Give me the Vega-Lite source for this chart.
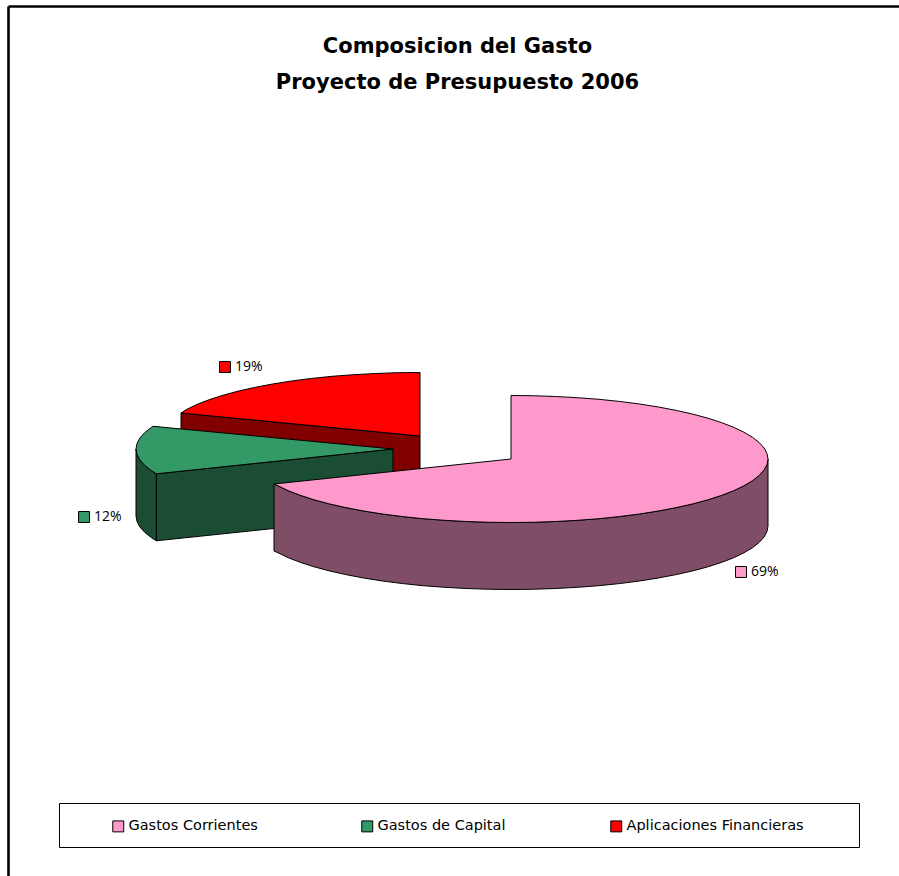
{"$schema":"https://vega.github.io/schema/vega-lite/v6.json","width":899,"height":876,"padding":0,"autosize":{"type":"none"},"background":"white","view":{"stroke":null},
"title":{"text":["Composicion del Gasto","Proyecto de Presupuesto 2006"],"anchor":"middle","orient":"top","offset":-93,"dx":8,"font":"DejaVu Sans","fontSize":21,"fontWeight":"bold","lineHeight":36,"color":"black"},
"datasets":{
"marco":[{"x":8.5,"y":6.5,"x2":8.5,"y2":876},{"x":8.5,"y":6.5,"x2":899,"y2":6.5}],
"caja":[{"x":59.5,"y":803.5,"x2":859.5,"y2":847.5}],
"porcentajes":[{"cara":"Gastos Corrientes","share":0.69,"x":741,"y":572},{"cara":"Gastos de Capital","share":0.12,"x":84,"y":517},{"cara":"Aplicaciones Financieras","share":0.19,"x":225,"y":367}],
"lateralRojo":[{"cara":"Lateral Aplicaciones Financieras","x":181,"y":413,"y2":480},{"cara":"Lateral Aplicaciones Financieras","x":420,"y":436,"y2":503}],
"lateralVerde":[{"cara":"Lateral Gastos de Capital","tramo":"curvo","x":136,"y":449,"y2":516},{"cara":"Lateral Gastos de Capital","tramo":"curvo","x":137,"y":454.5,"y2":521.5},{"cara":"Lateral Gastos de Capital","tramo":"curvo","x":139.9,"y":460,"y2":527},{"cara":"Lateral Gastos de Capital","tramo":"curvo","x":144.8,"y":465.4,"y2":532.4},{"cara":"Lateral Gastos de Capital","tramo":"curvo","x":151.5,"y":470.7,"y2":537.7},{"cara":"Lateral Gastos de Capital","tramo":"curvo","x":156.4,"y":473.8,"y2":540.8},{"cara":"Lateral Gastos de Capital","tramo":"recto","x":156.4,"y":473.8,"y2":540.8},{"cara":"Lateral Gastos de Capital","tramo":"recto","x":393,"y":449,"y2":516}],
"lateralRosa":[{"x":274,"y":484,"y2":551},{"x":278.1,"y":485.8,"y2":552.8},{"x":288.4,"y":490.75,"y2":557.75},{"x":300.5,"y":495.4,"y2":562.4},{"x":314.1,"y":499.8,"y2":566.8},{"x":329.3,"y":503.9,"y2":570.9},{"x":345.8,"y":507.6,"y2":574.6},{"x":363.6,"y":511,"y2":578},{"x":382.5,"y":514,"y2":581},{"x":402.4,"y":516.55,"y2":583.55},{"x":423.1,"y":518.7,"y2":585.7},{"x":444.5,"y":520.3,"y2":587.3},{"x":466.4,"y":521.5,"y2":588.5},{"x":488.6,"y":522.26,"y2":589.26},{"x":511,"y":522.5,"y2":589.5},{"x":533.4,"y":522.26,"y2":589.26},{"x":555.6,"y":521.5,"y2":588.5},{"x":577.5,"y":520.3,"y2":587.3},{"x":598.9,"y":518.7,"y2":585.7},{"x":619.6,"y":516.55,"y2":583.55},{"x":639.5,"y":514,"y2":581},{"x":658.4,"y":511,"y2":578},{"x":676.2,"y":507.6,"y2":574.6},{"x":692.7,"y":503.9,"y2":570.9},{"x":707.9,"y":499.8,"y2":566.8},{"x":721.5,"y":495.4,"y2":562.4},{"x":733.6,"y":490.75,"y2":557.75},{"x":743.9,"y":485.8,"y2":552.8},{"x":752.5,"y":480.7,"y2":547.7},{"x":759.2,"y":475.4,"y2":542.4},{"x":764.1,"y":470,"y2":537},{"x":767,"y":464.5,"y2":531.5},{"x":768,"y":459,"y2":526}],
"tapaRojo":[{"i":0,"x":420,"y":436},{"i":1,"x":420,"y":372.5},{"i":2,"x":397.6,"y":372.7},{"i":3,"x":375.4,"y":373.5},{"i":4,"x":353.5,"y":374.7},{"i":5,"x":332.1,"y":376.3},{"i":6,"x":311.4,"y":378.45},{"i":7,"x":291.5,"y":381},{"i":8,"x":272.6,"y":384},{"i":9,"x":254.8,"y":387.4},{"i":10,"x":238.3,"y":391.1},{"i":11,"x":223.1,"y":395.2},{"i":12,"x":209.5,"y":399.6},{"i":13,"x":197.4,"y":404.25},{"i":14,"x":187.1,"y":409.2},{"i":15,"x":181,"y":413}],
"tapaVerde":[{"i":0,"x":393,"y":449},{"i":1,"x":156.4,"y":473.8},{"i":2,"x":151.5,"y":470.7},{"i":3,"x":144.8,"y":465.4},{"i":4,"x":139.9,"y":460},{"i":5,"x":137,"y":454.5},{"i":6,"x":136,"y":449},{"i":7,"x":137,"y":443.5},{"i":8,"x":139.9,"y":438},{"i":9,"x":144.8,"y":432.6},{"i":10,"x":151.5,"y":427.3},{"i":11,"x":153,"y":426.3}],
"tapaRosa":[{"i":0,"x":511,"y":459},{"i":1,"x":511,"y":395.5},{"i":2,"x":533.4,"y":395.74},{"i":3,"x":555.6,"y":396.5},{"i":4,"x":577.5,"y":397.7},{"i":5,"x":598.9,"y":399.3},{"i":6,"x":619.6,"y":401.45},{"i":7,"x":639.5,"y":404},{"i":8,"x":658.4,"y":407},{"i":9,"x":676.2,"y":410.4},{"i":10,"x":692.7,"y":414.1},{"i":11,"x":707.9,"y":418.2},{"i":12,"x":721.5,"y":422.6},{"i":13,"x":733.6,"y":427.25},{"i":14,"x":743.9,"y":432.2},{"i":15,"x":752.5,"y":437.3},{"i":16,"x":759.2,"y":442.6},{"i":17,"x":764.1,"y":448},{"i":18,"x":767,"y":453.5},{"i":19,"x":768,"y":459},{"i":20,"x":767,"y":464.5},{"i":21,"x":764.1,"y":470},{"i":22,"x":759.2,"y":475.4},{"i":23,"x":752.5,"y":480.7},{"i":24,"x":743.9,"y":485.8},{"i":25,"x":733.6,"y":490.75},{"i":26,"x":721.5,"y":495.4},{"i":27,"x":707.9,"y":499.8},{"i":28,"x":692.7,"y":503.9},{"i":29,"x":676.2,"y":507.6},{"i":30,"x":658.4,"y":511},{"i":31,"x":639.5,"y":514},{"i":32,"x":619.6,"y":516.55},{"i":33,"x":598.9,"y":518.7},{"i":34,"x":577.5,"y":520.3},{"i":35,"x":555.6,"y":521.5},{"i":36,"x":533.4,"y":522.26},{"i":37,"x":511,"y":522.5},{"i":38,"x":488.6,"y":522.26},{"i":39,"x":466.4,"y":521.5},{"i":40,"x":444.5,"y":520.3},{"i":41,"x":423.1,"y":518.7},{"i":42,"x":402.4,"y":516.55},{"i":43,"x":382.5,"y":514},{"i":44,"x":363.6,"y":511},{"i":45,"x":345.8,"y":507.6},{"i":46,"x":329.3,"y":503.9},{"i":47,"x":314.1,"y":499.8},{"i":48,"x":300.5,"y":495.4},{"i":49,"x":288.4,"y":490.75},{"i":50,"x":278.1,"y":485.8},{"i":51,"x":274,"y":484}]
},
"encoding":{"x":{"field":"x","type":"quantitative","axis":null,"scale":{"domain":[0,899],"nice":false,"zero":false}},"y":{"field":"y","type":"quantitative","axis":null,"scale":{"domain":[876,0],"nice":false,"zero":false}}},
"layer":[
{"data":{"name":"marco"},"mark":{"type":"rule","stroke":"black","strokeWidth":2.6},"encoding":{"x2":{"field":"x2"},"y2":{"field":"y2"}}},
{"data":{"name":"lateralRojo"},"mark":{"type":"area","fill":"#800000","stroke":"black","strokeWidth":1},"encoding":{"y2":{"field":"y2"}}},
{"data":{"name":"tapaRojo"},"mark":{"type":"line","interpolate":"linear-closed","fill":"#FF0000","stroke":"black","strokeWidth":1},"encoding":{"order":{"field":"i","type":"quantitative"}}},
{"data":{"name":"lateralVerde"},"mark":{"type":"area","fill":"#1A4D33","stroke":"black","strokeWidth":1},"encoding":{"y2":{"field":"y2"},"detail":{"field":"tramo"}}},
{"data":{"name":"tapaVerde"},"mark":{"type":"line","interpolate":"linear-closed","fill":"#339966","stroke":"black","strokeWidth":1},"encoding":{"order":{"field":"i","type":"quantitative"}}},
{"data":{"name":"lateralRosa"},"mark":{"type":"area","fill":"#804D66","stroke":"black","strokeWidth":1},"encoding":{"y2":{"field":"y2"}}},
{"data":{"name":"tapaRosa"},"mark":{"type":"line","interpolate":"linear-closed","fill":"#FF99CC","stroke":"black","strokeWidth":1},"encoding":{"order":{"field":"i","type":"quantitative"}}},
{"data":{"name":"caja"},"mark":{"type":"rect","fill":"white","stroke":"black","strokeWidth":1},"encoding":{"x2":{"field":"x2"},"y2":{"field":"y2"}}},
{"data":{"name":"porcentajes"},"mark":{"type":"point","shape":"square","filled":true,"size":120,"stroke":"black","strokeWidth":1,"opacity":1},"encoding":{"fill":{"field":"cara","type":"nominal","scale":{"domain":["Gastos Corrientes","Gastos de Capital","Aplicaciones Financieras"],"range":["#FF99CC","#339966","#FF0000"]},"legend":{"title":null,"orient":"none","legendX":111,"legendY":819,"direction":"horizontal","columns":3,"gridAlign":"all","columnPadding":53,"symbolType":"square","symbolSize":120,"symbolStrokeColor":"black","symbolStrokeWidth":1,"symbolOpacity":1,"labelFont":"DejaVu Sans","labelFontSize":14.5,"labelLimit":300,"labelColor":"black","labelOffset":3,"padding":0}}}},
{"data":{"name":"porcentajes"},"mark":{"type":"text","align":"left","baseline":"middle","dx":10,"font":"Open Sans","fontSize":14,"fill":"black"},"encoding":{"text":{"field":"share","type":"quantitative","format":".0%"}}}
]}
